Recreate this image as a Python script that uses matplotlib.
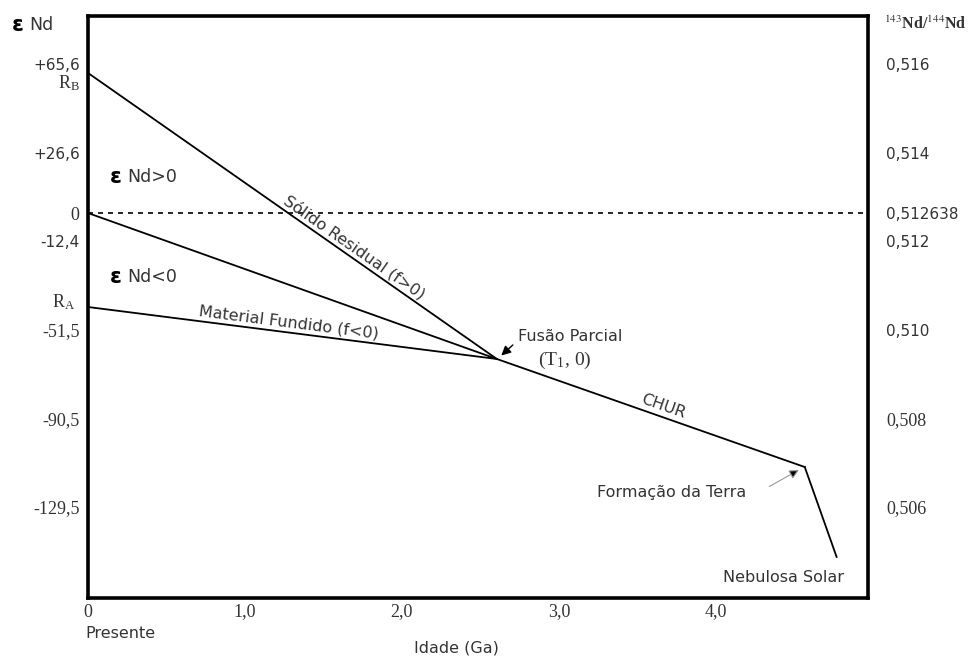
import numpy as np
import matplotlib
matplotlib.use("Agg")
import matplotlib.pyplot as plt
from matplotlib.patches import FancyArrowPatch
from matplotlib.transforms import ScaledTranslation

# epsilon-Nd evolution: CHUR, partial melting at T1 and the two derived reservoirs
chur_age = [0.0, 2.605, 4.567]
chur_eps = [0.0, -64.3, -111.9]
nebula_age = [4.567, 4.77]
nebula_eps = [-111.9, -151.5]
residual_age = [0.0, 2.605]
residual_eps = [61.7, -64.3]
melt_age = [0.0, 2.605]
melt_eps = [-41.4, -64.3]

eps_ticks = [65.6, 26.6, 0, -12.4, -51.5, -90.5, -129.5]
eps_labels = ["+65,6", "+26,6", "0", "-12,4", "-51,5", "-90,5", "-129,5"]
eps_serif = [False, False, True, False, True, True, True]
ratio_ticks = [0.516, 0.514, 0.512638, 0.512, 0.510, 0.508, 0.506]
ratio_labels = ["0,516", "0,514", "0,512638", "0,512", "0,510", "0,508", "0,506"]
ratio_serif = [False, False, False, False, False, True, True]
age_ticks = [0, 1, 2, 3, 4]
age_labels = ["0", "1,0", "2,0", "3,0", "4,0"]
CHUR_0 = 0.512638

SERIF = "Liberation Serif"
SANS = "DejaVu Sans"
GREY = "#333333"
plt.rcParams["mathtext.fontset"] = "stix"

W, H = 969, 659
fig = plt.figure(figsize=(W / 100, H / 100), dpi=100)
fig.patch.set_facecolor("white")
ax = fig.add_axes([88 / W, 1 - 598 / H, (868 - 88) / W, (598 - 16) / H])
ax.set_xlim(0, 4.97)
ax.set_ylim(-169.6, 86.8)

for s in ax.spines.values():
    s.set_linewidth(2.6)
    s.set_color("black")

lw = 1.3
ax.plot(chur_age, chur_eps, color="black", lw=lw)
ax.plot(nebula_age, nebula_eps, color="black", lw=lw)
ax.plot(residual_age, residual_eps, color="black", lw=lw)
ax.plot(melt_age, melt_eps, color="black", lw=lw)
ax.axhline(0, color="black", lw=1.2, ls=(0, (3, 3)))

# axes ticks
ax.set_yticks(eps_ticks, labels=eps_labels)
ax.tick_params(axis="y", length=0, pad=6, labelsize=11, labelcolor=GREY)
for t, serif in zip(ax.get_yticklabels(), eps_serif):
    t.set_fontfamily(SERIF if serif else SANS)
    if serif:
        t.set_fontsize(13)
ax.set_xticks(age_ticks, labels=age_labels)
ax.tick_params(axis="x", length=0, pad=4, labelsize=13, labelcolor=GREY)
for t in ax.get_xticklabels():
    t.set_fontfamily(SERIF)

sec = ax.secondary_yaxis("right", functions=(lambda e: CHUR_0 * (1 + e / 1e4),
                                              lambda r: (r / CHUR_0 - 1) * 1e4))
sec.set_yticks(ratio_ticks, labels=ratio_labels)
sec.tick_params(length=0, pad=13, labelsize=11, labelcolor=GREY)
sec.spines["right"].set_visible(False)
for t, serif in zip(sec.get_yticklabels(), ratio_serif):
    t.set_fontfamily(SERIF if serif else SANS)
    if serif:
        t.set_fontsize(13)


def screen_angle(x0, y0, x1, y1):
    p0 = ax.transData.transform((x0, y0))
    p1 = ax.transData.transform((x1, y1))
    return np.degrees(np.arctan2(p1[1] - p0[1], p1[0] - p0[0]))


def along(xs, ys, x, text):
    ang = screen_angle(xs[0], ys[0], xs[1], ys[1])
    y = np.interp(x, xs, ys)
    ax.text(x, y, text, rotation=ang, rotation_mode="anchor", ha="center", va="bottom",
            fontsize=11.5, color=GREY, family=SANS,
            transform=ax.transData + ScaledTranslation(0, 2 / 72, fig.dpi_scale_trans))


along(residual_age, residual_eps, 1.67, "Sólido Residual (f>0)")
along(melt_age, melt_eps, 1.27, "Material Fundido (f<0)")
along(chur_age[1:], chur_eps[1:], 3.65, "CHUR")


def eps_text(x, y, tail, size, transform):
    ax.text(x, y, "ε", fontsize=size + 3, fontweight="bold", color="black", family=SANS,
            ha="left", va="center", transform=transform)
    ax.text(x, y, tail, fontsize=size, color=GREY, family=SANS, ha="left", va="center",
            transform=transform + ScaledTranslation(size * 1.0 / 72, 0, fig.dpi_scale_trans))


eps_text(0.14, 15.9, "Nd>0", 12.5, ax.transData)
eps_text(0.14, -28.2, "Nd<0", 12.5, ax.transData)
eps_text(12 / W, 1 - 25 / H, "Nd", 12.5, fig.transFigure)

fig.text(884 / W, 1 - 24 / H, r"$^{143}$Nd/$^{144}$Nd", family=SERIF, fontweight="bold",
         fontsize=11.5, ha="left", va="center", color=GREY)

ax.text(-0.05, 57.0, r"R$_\mathregular{B}$", family=SERIF, fontsize=13, ha="right", va="center",
        color=GREY, clip_on=False)
ax.text(-0.08, -39.2, r"R$_\mathregular{A}$", family=SERIF, fontsize=13, ha="right", va="center",
        color=GREY, clip_on=False)

ax.text(2.739, -54.6, "Fusão Parcial", fontsize=11.5, color=GREY, family=SANS, ha="left",
        va="center")
ax.text(2.866, -64.8, r"(T$_\mathregular{1}$, 0)", fontsize=14, color=GREY, family=SERIF,
        ha="left", va="center")
ax.text(3.242, -123.3, "Formação da Terra", fontsize=11.5, color=GREY, family=SANS, ha="left",
        va="center")
ax.text(4.045, -160.4, "Nebulosa Solar", fontsize=11.5, color=GREY, family=SANS, ha="left",
        va="center")

ax.add_patch(FancyArrowPatch((2.72, -57.3), (2.62, -63.6), arrowstyle="-|>", mutation_scale=14,
                             color="black", lw=1.0))
ax.add_patch(FancyArrowPatch((4.325, -121.1), (4.545, -112.6), arrowstyle="-|>",
                             mutation_scale=14, ec="#999999", fc="black", lw=0.8))

fig.text(85 / W, 1 - 633 / H, "Presente", fontsize=11.5, color=GREY, family=SANS, ha="left",
         va="center")
fig.text(456 / W, 1 - 648 / H, "Idade (Ga)", fontsize=11.5, color=GREY, family=SANS,
         ha="center", va="center")

fig.savefig("out.png", dpi=100, facecolor="white")
